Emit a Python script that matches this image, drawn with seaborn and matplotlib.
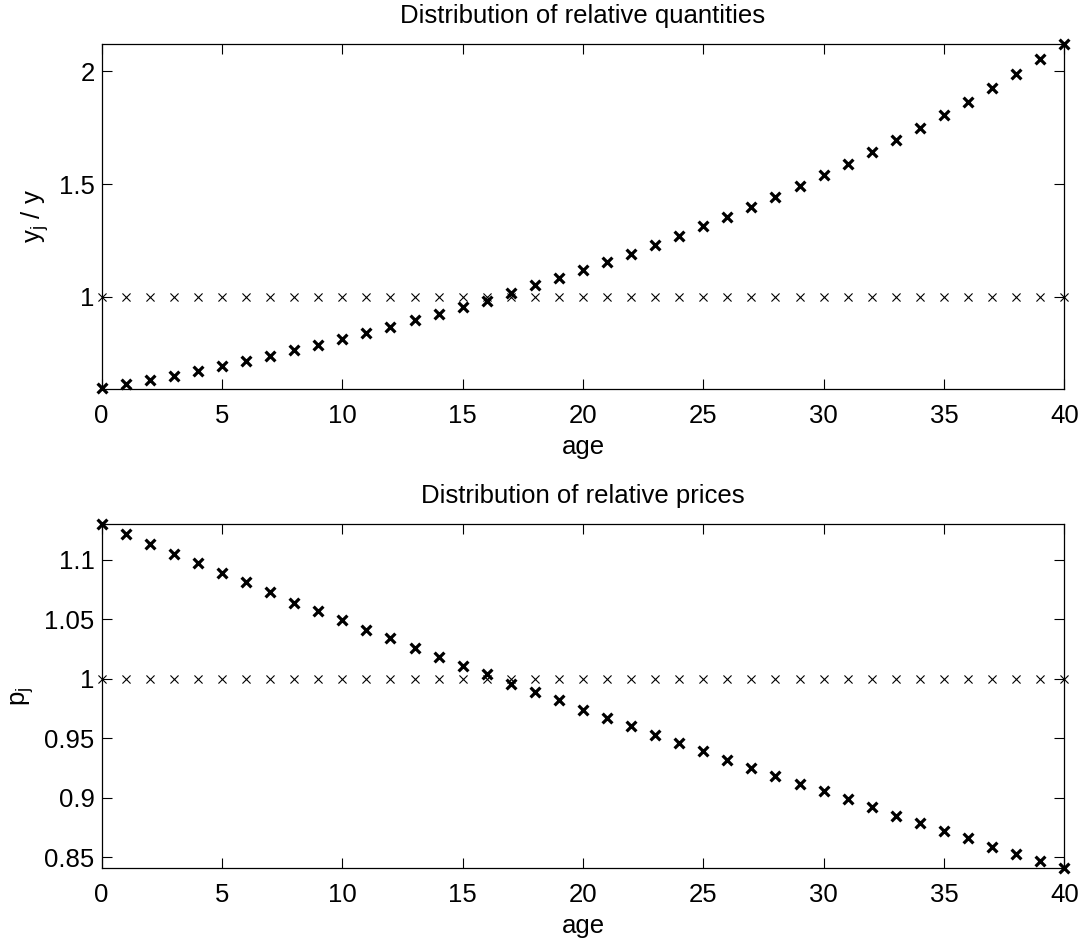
import matplotlib
matplotlib.use("Agg")
import matplotlib.pyplot as plt
import seaborn as sns
import pandas as pd

# ---- data ----
ages = list(range(41))
rel_quantities = [0.596, 0.611, 0.629, 0.650, 0.672, 0.694, 0.716, 0.738, 0.764, 0.786,
                  0.813, 0.839, 0.866, 0.895, 0.925, 0.954, 0.983, 1.015, 1.050, 1.085,
                  1.118, 1.153, 1.191, 1.230, 1.271, 1.313, 1.355, 1.398, 1.444, 1.491,
                  1.539, 1.590, 1.642, 1.694, 1.750, 1.806, 1.864, 1.924, 1.988, 2.053,
                  2.120]
rel_prices = [1.130, 1.122, 1.113, 1.105, 1.097, 1.089, 1.081, 1.073, 1.064, 1.057,
              1.049, 1.041, 1.034, 1.026, 1.018, 1.011, 1.004, 0.996, 0.989, 0.982,
              0.974, 0.967, 0.960, 0.953, 0.946, 0.939, 0.932, 0.925, 0.918, 0.912,
              0.906, 0.899, 0.892, 0.885, 0.879, 0.872, 0.866, 0.859, 0.853, 0.847,
              0.841]
baseline = [1.0] * 41

x_ticks = [0, 5, 10, 15, 20, 25, 30, 35, 40]
x_ticklabels = ["0", "5", "10", "15", "20", "25", "30", "35", "40"]
q_ticks = [1.0, 1.5, 2.0]
q_ticklabels = ["1", "1.5", "2"]
p_ticks = [0.85, 0.9, 0.95, 1.0, 1.05, 1.1]
p_ticklabels = ["0.85", "0.9", "0.95", "1", "1.05", "1.1"]

titles = ["Distribution of relative quantities", "Distribution of relative prices"]
ylabels = ["$y_j$ / y", "$p_j$"]
xlabel = "age"

# ---- style ----
sns.set_theme(style="ticks")
plt.rcParams["font.family"] = ["Liberation Sans", "DejaVu Sans"]
plt.rcParams["mathtext.fontset"] = "custom"
plt.rcParams["mathtext.rm"] = "Liberation Sans"
plt.rcParams["mathtext.it"] = "Liberation Sans"
plt.rcParams["mathtext.default"] = "regular"
for key in ["text.color", "axes.labelcolor", "xtick.color", "ytick.color",
            "axes.edgecolor"]:
    plt.rcParams[key] = "black"
FS = 18.5

fig = plt.figure(figsize=(10.85, 9.43), dpi=100)
ax1 = fig.add_axes([0.0937, 0.5878, 0.8872, 0.3655])
ax2 = fig.add_axes([0.0937, 0.0795, 0.8872, 0.3648])

df_q = pd.DataFrame({"age": ages, "val": rel_quantities, "base": baseline})
df_p = pd.DataFrame({"age": ages, "val": rel_prices, "base": baseline})

for ax, df, ylim, yt, ytl, title, ylab in [
    (ax1, df_q, (0.592, 2.121), q_ticks, q_ticklabels, titles[0], ylabels[0]),
    (ax2, df_p, (0.841, 1.130), p_ticks, p_ticklabels, titles[1], ylabels[1]),
]:
    sns.scatterplot(data=df, x="age", y="base", marker="x", s=34, color="black",
                    linewidth=0.8, ax=ax, clip_on=False, zorder=3)
    sns.scatterplot(data=df, x="age", y="val", marker="x", s=50, color="black",
                    linewidth=2.3, ax=ax, clip_on=False, zorder=4)
    ax.set_xlim(0, 40)
    ax.set_ylim(*ylim)
    ax.set_xticks(x_ticks, x_ticklabels)
    ax.set_yticks(yt, ytl)
    ax.tick_params(direction="in", length=7, width=0.8, labelsize=FS,
                   top=True, right=True, colors="black")
    ax.tick_params(axis="x", pad=11)
    ax.tick_params(axis="y", pad=5)
    for sp in ax.spines.values():
        sp.set_visible(True)
        sp.set_linewidth(0.9)
        sp.set_color("black")
    ax.set_title(title, fontsize=FS, pad=15, color="black")
    ax.set_xlabel(xlabel, fontsize=FS, labelpad=5, color="black")
    ax.set_ylabel(ylab, fontsize=FS, labelpad=6, color="black")

fig.savefig("out.png", dpi=100, facecolor="white")
